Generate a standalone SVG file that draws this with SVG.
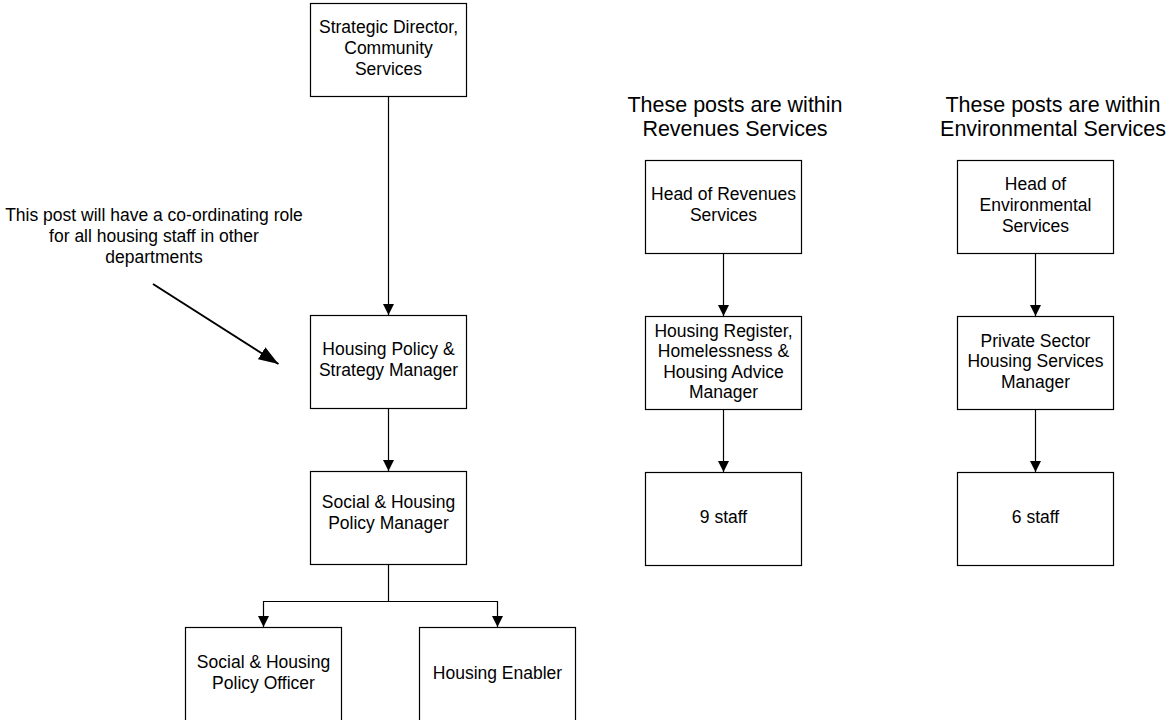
<svg xmlns="http://www.w3.org/2000/svg" width="1169" height="720" viewBox="0 0 1169 720">
<style>
.box{fill:#fff;stroke:#000;stroke-width:1.2}
.t{font-family:"Liberation Sans",Arial,sans-serif;font-size:17.5px;fill:#000;text-anchor:middle}
.h{font-family:"Liberation Sans",Arial,sans-serif;font-size:21.5px;fill:#000;text-anchor:middle}
.c{fill:none;stroke:#000;stroke-width:1.2}
.ann{fill:none;stroke:#000;stroke-width:2}
</style>
<defs>
<marker id="ah" markerUnits="userSpaceOnUse" markerWidth="11" markerHeight="11" refX="11" refY="5.5" orient="auto">
<path d="M0,0 L11,5.5 L0,11 z" fill="#000"/>
</marker>
<marker id="big" markerUnits="userSpaceOnUse" markerWidth="21" markerHeight="15" refX="20" refY="7" orient="auto">
<path d="M0,0 L20,7 L0,14 z" fill="#000"/>
</marker>
</defs>
<rect width="1169" height="720" fill="#fff"/>

<g id="connectors">
<path class="c" d="M388.5,96 V315" marker-end="url(#ah)"/>
<path class="c" d="M388.5,408 V471" marker-end="url(#ah)"/>
<path class="c" d="M388.5,564 V601.5"/>
<path class="c" d="M263.5,601.5 H497.5"/>
<path class="c" d="M263.5,601 V627" marker-end="url(#ah)"/>
<path class="c" d="M497.5,601 V627" marker-end="url(#ah)"/>
<path class="c" d="M723.5,253 V316" marker-end="url(#ah)"/>
<path class="c" d="M723.5,409 V472" marker-end="url(#ah)"/>
<path class="c" d="M1035.5,253 V316" marker-end="url(#ah)"/>
<path class="c" d="M1035.5,409 V472" marker-end="url(#ah)"/>
<path class="ann" d="M153,284 L278.5,364" marker-end="url(#big)"/>
</g>

<g id="annotation">
<text class="t" x="154" y="221">This post will have a co-ordinating role</text>
<text class="t" x="154" y="242">for all housing staff in other</text>
<text class="t" x="154" y="263">departments</text>
</g>

<g id="header-revenues">
<text class="h" x="735" y="112">These posts are within</text>
<text class="h" x="735" y="136">Revenues Services</text>
</g>
<g id="header-environmental">
<text class="h" x="1053" y="112">These posts are within</text>
<text class="h" x="1053" y="136">Environmental Services</text>
</g>

<g id="strategic-director">
<rect class="box" x="310.5" y="3.5" width="156" height="93"/>
<text class="t" x="388.5" y="33">Strategic Director,</text>
<text class="t" x="388.5" y="54">Community</text>
<text class="t" x="388.5" y="75">Services</text>
</g>
<g id="housing-policy-strategy-manager">
<rect class="box" x="310.5" y="315.5" width="156" height="93"/>
<text class="t" x="388.5" y="355">Housing Policy &amp;</text>
<text class="t" x="388.5" y="376">Strategy Manager</text>
</g>
<g id="social-housing-policy-manager">
<rect class="box" x="310.5" y="471.5" width="156" height="93"/>
<text class="t" x="388.5" y="508">Social &amp; Housing</text>
<text class="t" x="388.5" y="529">Policy Manager</text>
</g>
<g id="social-housing-policy-officer">
<rect class="box" x="185.5" y="627.5" width="156" height="95"/>
<text class="t" x="263.5" y="668">Social &amp; Housing</text>
<text class="t" x="263.5" y="689">Policy Officer</text>
</g>
<g id="housing-enabler">
<rect class="box" x="419.5" y="627.5" width="156" height="95"/>
<text class="t" x="497.5" y="679">Housing Enabler</text>
</g>

<g id="head-revenues">
<rect class="box" x="645.5" y="160.5" width="156" height="93"/>
<text class="t" x="723.5" y="200">Head of Revenues</text>
<text class="t" x="723.5" y="221">Services</text>
</g>
<g id="housing-register-manager">
<rect class="box" x="645.5" y="316.5" width="156" height="93"/>
<text class="t" x="723.5" y="336.5">Housing Register,</text>
<text class="t" x="723.5" y="357">Homelessness &amp;</text>
<text class="t" x="723.5" y="377.5">Housing Advice</text>
<text class="t" x="723.5" y="398">Manager</text>
</g>
<g id="nine-staff">
<rect class="box" x="645.5" y="472.5" width="156" height="93"/>
<text class="t" x="723.5" y="523">9 staff</text>
</g>

<g id="head-environmental">
<rect class="box" x="957.5" y="160.5" width="156" height="93"/>
<text class="t" x="1035.5" y="190">Head of</text>
<text class="t" x="1035.5" y="211">Environmental</text>
<text class="t" x="1035.5" y="231.5">Services</text>
</g>
<g id="private-sector-manager">
<rect class="box" x="957.5" y="316.5" width="156" height="93"/>
<text class="t" x="1035.5" y="346.5">Private Sector</text>
<text class="t" x="1035.5" y="367">Housing Services</text>
<text class="t" x="1035.5" y="387.5">Manager</text>
</g>
<g id="six-staff">
<rect class="box" x="957.5" y="472.5" width="156" height="93"/>
<text class="t" x="1035.5" y="523">6 staff</text>
</g>
</svg>
